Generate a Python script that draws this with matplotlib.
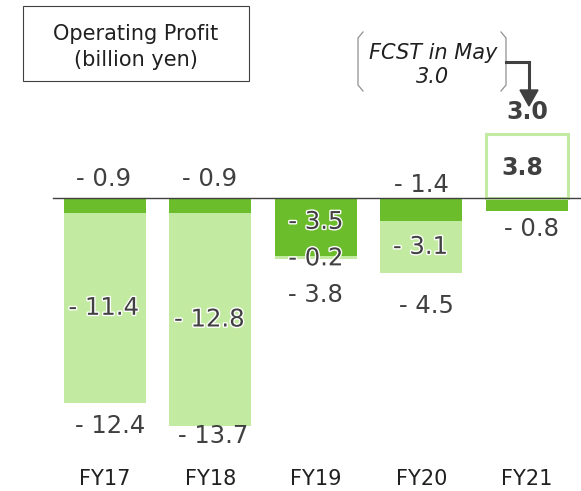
import matplotlib.pyplot as plt
import matplotlib.patheffects as pe
from matplotlib.patches import Rectangle, Polygon

# data (billion yen)
years = ['FY17', 'FY18', 'FY19', 'FY20', 'FY21']
dark_vals = [-0.9, -0.9, -3.5, -1.4, -0.8]
light_vals = [-11.4, -12.8, -0.2, -3.1, 0.0]
totals = [-12.4, -13.7, -3.8, -4.5, -0.8]
fy21_result = 3.8
fy21_fcst = 3.0

dark = '#6bbd2b'
light = '#c3eaa1'
txt = '#404040'

fig = plt.figure(figsize=(5.81, 4.91), dpi=100)
ax = fig.add_axes([0, 0, 1, 1])
ax.set_xlim(-0.99, 4.512)
ax.set_ylim(-17.57, 11.83)
ax.axis('off')

x = list(range(len(years)))
w = 0.777
ax.bar(x, dark_vals, width=w, color=dark, zorder=2)
ax.bar(x, light_vals, width=w, bottom=dark_vals, color=light, zorder=2)
# FY21 outlined box
ax.bar([4], [fy21_result], width=w, color='white', edgecolor=light,
       linewidth=2.2, zorder=2)
ax.plot([-0.49, 4.512], [0, 0], color='#404040', lw=1, zorder=3)

glow = [pe.withStroke(linewidth=2, foreground='white')]
fs = 17.5
PX = 72 / 100  # pixels -> points


def lab(xv, yv, s, dx=0, dy=0, effects=None, **kw):
    ax.annotate(s, (xv, yv), xytext=(dx * PX, dy * PX), textcoords='offset points',
                ha='center', va='center', fontsize=kw.pop('size', fs), color=txt,
                path_effects=effects, zorder=5, **kw)


def fmt(v):
    return '- %.1f' % abs(v)


# labels above the zero line
top_dx = [-1, -1, 0, 0]
top_dy = [19, 19, 0, 13]
for i in [0, 1, 3]:
    lab(x[i], 0, fmt(dark_vals[i]), dx=top_dx[i], dy=top_dy[i])
# light segment labels
for i in [0, 1, 3]:
    lab(x[i], dark_vals[i] + light_vals[i] / 2, fmt(light_vals[i]), dx=-1, effects=glow)
# FY19: both inside
lab(x[2], dark_vals[2] / 2, fmt(dark_vals[2]), dy=5, effects=glow)
lab(x[2], dark_vals[2] + light_vals[2], fmt(light_vals[2]), dy=1, effects=glow)
# totals below bars
tot_dx = [5.5, 3.5, 0, 5.5]
tot_dy = [-23, -10, -36, -33]
for i in range(4):
    lab(x[i], dark_vals[i] + light_vals[i], fmt(totals[i]), dx=tot_dx[i], dy=tot_dy[i])
lab(x[4], dark_vals[4], fmt(dark_vals[4]), dx=5, dy=-18)
lab(x[4], fy21_result / 2, '%.1f' % fy21_result, dx=-5, dy=-2, size=17, fontweight='bold')
lab(x[4], fy21_result, '%.1f' % fy21_fcst, dx=0, dy=22, size=17, fontweight='bold')

for i, name in enumerate(years):
    ax.text(x[i], -16.86, name, ha='center', va='center', fontsize=15, color='#202020')

# overlay in pixel units for the annotation boxes
ov = fig.add_axes([0, 0, 1, 1], zorder=10)
ov.set_xlim(0, 581)
ov.set_ylim(491, 0)
ov.axis('off')
ov.patch.set_alpha(0)

ov.add_patch(Rectangle((23, 6), 226, 75, fill=False, edgecolor='#404040', lw=0.8))
ov.text(136, 47, 'Operating Profit\n(billion yen)', ha='center', va='center',
        fontsize=15, color='#202020', linespacing=1.4)

br = '#909090'
ov.plot([363, 358, 358, 363], [32, 38, 85, 91], color=br, lw=0.9)
ov.plot([501, 506, 506, 501], [32, 38, 85, 91], color=br, lw=0.9)
ov.text(433, 65, 'FCST in May\n3.0', ha='center', va='center', fontsize=15,
        style='italic', color='#202020', linespacing=1.3)
ov.plot([506, 529, 529], [62, 62, 91], color='#404040', lw=2.2, solid_joinstyle='miter')
ov.add_patch(Polygon([(520, 90), (538, 90), (529, 106)], closed=True, color='#404040'))

fig.savefig('out.png', dpi=100)
